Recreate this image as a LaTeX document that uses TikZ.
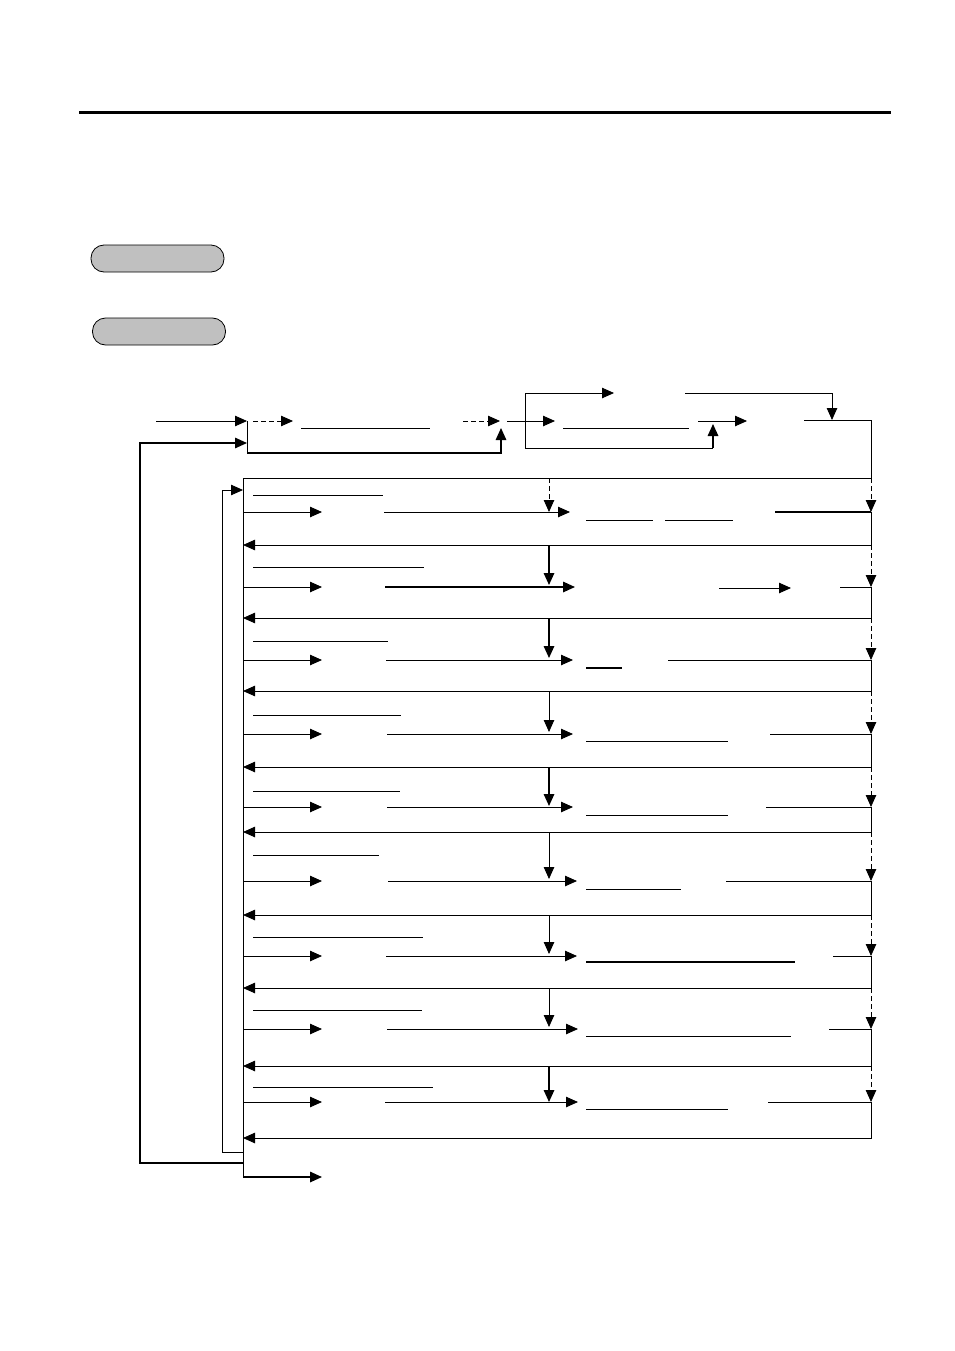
\documentclass[tikz,border=0pt]{standalone}
\usetikzlibrary{arrows.meta}
\begin{document}
\begin{tikzpicture}[x=1pt,y=-1pt,
  ln/.style={line width=0.8pt},
  tk/.style={line width=1.6pt},
  arr/.style={-{Triangle[length=12pt,width=10.5pt]}},
  dsh/.style={dash pattern=on 5pt off 3pt},
  pill/.style={draw,line width=0.8pt,fill={rgb,255:red,192;green,192;blue,192},rounded corners=13pt,minimum width=133pt,minimum height=27pt,inner sep=0pt}]
\useasboundingbox (0,0) rectangle (954,1351);
% header rule
\draw[line width=3pt] (79,113) -- (891,113);
% pills
\node[pill] (p1) at (157.5,258.5) {};
\node[pill] (p2) at (159,331.5) {};
% ---- top flow ----
\coordinate (s0) at (156,421);
\coordinate (s1) at (247,421);
\draw[ln,arr] (s0) -- (s1);
\draw[ln,dsh,arr] (253,421) -- (293,421);
\draw[ln] (301,428) -- (430,428);
\draw[ln,dsh,arr] (463,421) -- (500,421);
\draw[ln] (s1) -- (247,453);
\draw[line width=1.4pt,arr] (247,453) -- (501,453) -- (501,428);
% outer loop
\coordinate (ol) at (243,1163);
\draw[line width=1.4pt,arr] (ol) -- (140,1163) -- (140,443) -- (247,443);
% inner loop
\coordinate (il) at (243,1152);
\draw[ln,arr] (il) -- (222,1152) -- (222,490) -- (243,490);
% second block
\draw[ln,arr] (507,421) -- (555,421);
\draw[ln] (525,393) -- (525,448);
\draw[ln,arr] (525,393) -- (614,393);
\draw[ln] (525,448) -- (713,448);
\draw[tk,arr] (713,448) -- (713,424);
\draw[ln] (563,428) -- (689,428);
\draw[ln,arr] (698,421) -- (747,421);
\draw[ln,arr] (685,393) -- (832,393) -- (832,420);
% big frame
\coordinate (ft) at (871,478);
\draw[ln] (804,420) -- (871,420) -- (ft) -- (243,478) -- (243,1177);
\draw[tk,arr] (243,1177) -- (322,1177);
% ---- rows ----
\foreach \i/\y/\r/\p/\uy/\ue/\ms/\me/\mw/\rs/\rw in {
 1/512/545/478/495/383/384/570/0.8/775/1.6,
 2/587/618/545/567/424/385/575/1.6/840/0.8,
 3/660/691/618/641/388/386/573/0.8/668/0.8,
 4/734/767/691/715/401/387/573/0.8/770/0.8,
 5/807/832/767/791/400/387/573/0.8/766/0.8,
 6/881/915/832/855/379/388/577/0.8/726/0.8,
 7/956/988/915/937/423/386/577/0.8/833/0.8,
 8/1029/1066/988/1010/422/387/578/0.8/829/0.8,
 9/1102/1138/1066/1087/433/385/578/0.8/768/0.8}{
  \coordinate (L\i) at (243,\y);
  \coordinate (R\i) at (871,\y);
  \coordinate (B\i) at (871,\r);
  \draw[ln,arr] (L\i) -- (322,\y);
  \draw[ln] (253,\uy) -- (\ue,\uy);
  \draw[line width=\mw pt,arr] (\ms,\y) -- (\me,\y);
  \draw[line width=\rw pt] (\rs,\y) -- (R\i);
  \draw[ln,arr] (R\i) -- (B\i) -- (243,\r);
  \draw[ln,dsh,arr] (871,\p) -- (R\i);
}
% vertical arrows at x=549
\draw[ln,dsh,arr] (549,478) -- (549,512);
\draw[tk,arr] (549,545) -- (549,585);
\draw[tk,arr] (549,618) -- (549,658);
\draw[ln,arr] (549,691) -- (549,732);
\draw[tk,arr] (549,767) -- (549,806);
\draw[ln,arr] (549,832) -- (549,879);
\draw[ln,arr] (549,915) -- (549,954);
\draw[ln,arr] (549,988) -- (549,1027);
\draw[tk,arr] (549,1066) -- (549,1102);
% right-hand underlines and extras
\draw[ln] (586,520) -- (653,520);
\draw[ln] (665,520) -- (733,520);
\draw[ln,arr] (719,588) -- (791,588);
\draw[tk] (586,668) -- (622,668);
\draw[ln] (586,741) -- (728,741);
\draw[ln] (586,815) -- (728,815);
\draw[ln] (586,889) -- (681,889);
\draw[tk] (586,962) -- (795,962);
\draw[ln] (586,1036) -- (791,1036);
\draw[ln] (586,1109) -- (728,1109);
\end{tikzpicture}
\end{document}
